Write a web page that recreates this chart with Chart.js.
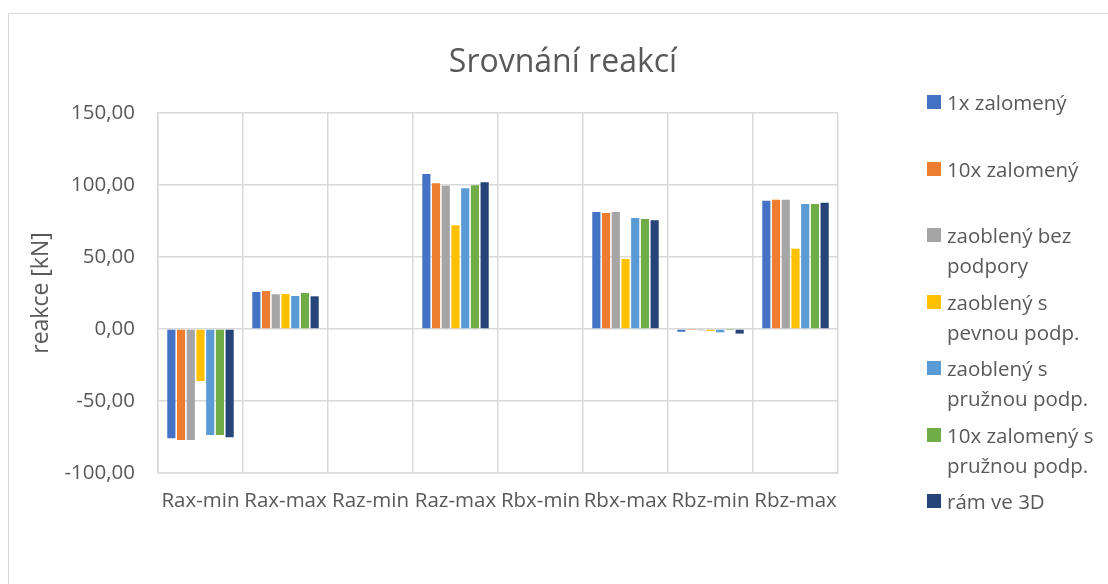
<!DOCTYPE html>
<html lang="cs">
<head>
<meta charset="utf-8">
<title>Srovnání reakcí</title>
<script src="https://cdn.jsdelivr.net/npm/chart.js@4.4.1/dist/chart.umd.min.js"></script>
<style>
    html, body {
        margin: 0;
        padding: 0;
        background: #FFFFFF;
        overflow: hidden;
        width: 1108px;
        height: 584px;
    }

    .chart-frame {
        position: absolute;
        left: 8px;
        top: 13px;
        width: 1110px;
        height: 600px;
        border: 1px solid #D9D9D9;
        box-sizing: border-box;
    }

    .chart-frame canvas {
        position: absolute;
        left: 0;
        top: 0;
    }

    .legend {
        position: absolute;
        left: 918px;
        top: 73px;
        width: 190px;
        margin: 0;
        padding: 0;
        list-style: none;
        font-family: 'Open Sans', sans-serif;
        font-size: 20.5px;
        line-height: 30px;
        color: #595959;
    }

    .legend li {
        position: relative;
        height: 66.5px;
        padding-left: 20px;
        width: 156px;
    }

    .legend .swatch {
        position: absolute;
        left: 0;
        top: 8px;
        width: 14px;
        height: 14px;
    }
</style>
</head>
<body>
<div class="chart-frame">
    <canvas id="reactionsChart" width="1108" height="598"></canvas>
    <ul class="legend" id="reactionsLegend"></ul>
</div>

<script>
// reakce podpor pro jednotlivé varianty modelu [kN]
const categories = ['Rax-min', 'Rax-max', 'Raz-min', 'Raz-max', 'Rbx-min', 'Rbx-max', 'Rbz-min', 'Rbz-max'];

const seriesNames = [
    '1x zalomený',
    '10x zalomený',
    'zaoblený bez podpory',
    'zaoblený s pevnou podp.',
    'zaoblený s pružnou podp.',
    '10x zalomený s pružnou podp.',
    'rám ve 3D',
];

const zalomeny1x       = [-75.9, 25.7, 0, 107.6, 0, 81.2, -1.9, 89.1];
const zalomeny10x      = [-77.1, 26.4, 0, 101.2, 0, 80.5, -0.2, 89.8];
const zaoblenyBez      = [-77.0, 24.1, 0,  99.5, 0, 81.2, -0.9, 89.8];
const zaoblenyPevna    = [-36.1, 24.3, 0,  72.0, 0, 48.6, -1.4, 55.8];
const zaoblenyPruzna   = [-73.6, 22.9, 0,  97.7, 0, 77.1, -2.3, 86.8];
const zalomeny10Pruzna = [-73.6, 25.0, 0,  99.8, 0, 76.4, -0.2, 86.8];
const ram3D            = [-75.2, 22.7, 0, 101.9, 0, 75.5, -3.2, 87.7];

const yTicks = [-100, -50, 0, 50, 100, 150];

const seriesColors = ['#4472C4', '#ED7D31', '#A5A5A5', '#FFC000', '#5B9BD5', '#70AD47', '#264478'];

const chartTitle = 'Srovnání reakcí';

(function () {
    'use strict';

    const TEXT = '#595959';
    const GRID = '#D9D9D9';
    const FONT = "'Open Sans', sans-serif";

    const seriesValues = [
        zalomeny1x,
        zalomeny10x,
        zaoblenyBez,
        zaoblenyPevna,
        zaoblenyPruzna,
        zalomeny10Pruzna,
        ram3D,
    ];

    // title centred over the whole frame, not just the plot + legend gap
    const frameTitle = {
        id: 'frameTitle',
        afterDraw(chart) {
            const ctx = chart.ctx;
            ctx.save();
            ctx.font = `32px ${FONT}`;
            ctx.fillStyle = TEXT;
            ctx.textAlign = 'center';
            ctx.textBaseline = 'middle';
            ctx.fillText(chartTitle, chart.width / 2, 49);
            ctx.restore();
        },
    };

    function formatTick(value) {
        return Number(value).toFixed(2).replace('.', ',');
    }

    function buildDatasets() {
        return seriesNames.map((name, i) => ({
            label: name,
            data: seriesValues[i],
            backgroundColor: seriesColors[i],
            borderWidth: 0,
            barPercentage: 0.84,
            categoryPercentage: 0.8,
        }));
    }

    function buildLegend() {
        const list = document.getElementById('reactionsLegend');

        seriesNames.forEach((name, i) => {
            const item = document.createElement('li');
            const swatch = document.createElement('span');
            swatch.className = 'swatch';
            swatch.style.background = seriesColors[i];
            item.appendChild(swatch);
            item.appendChild(document.createTextNode(name));
            list.appendChild(item);
        });
    }

    Chart.defaults.font.family = FONT;
    Chart.defaults.color = TEXT;

    new Chart(document.getElementById('reactionsChart'), {
        type: 'bar',
        data: {
            labels: categories,
            datasets: buildDatasets(),
        },
        options: {
            responsive: false,
            animation: false,
            layout: {
                padding: { left: 0, right: 279, top: 99, bottom: 0 },
            },
            plugins: {
                legend: { display: false },
                tooltip: { enabled: false },
                title: { display: false },
            },
            scales: {
                x: {
                    grid: {
                        color: GRID,
                        lineWidth: 1.5,
                        drawTicks: false,
                    },
                    border: { color: GRID, width: 1.5 },
                    ticks: {
                        color: TEXT,
                        autoSkip: false,
                        maxRotation: 0,
                        minRotation: 0,
                        padding: 16,
                        font: { family: FONT, size: 20.5 },
                    },
                    afterFit(scale) {
                        scale.height = 139;
                    },
                },
                y: {
                    min: -100,
                    max: 150,
                    afterBuildTicks(scale) {
                        scale.ticks = yTicks.map(value => ({ value }));
                    },
                    grid: {
                        color: GRID,
                        lineWidth: 1.5,
                        drawTicks: false,
                    },
                    border: { color: GRID, width: 1.5 },
                    ticks: {
                        color: TEXT,
                        padding: 23,
                        font: { family: FONT, size: 20.5 },
                        callback: formatTick,
                    },
                    title: {
                        display: true,
                        text: 'reakce [kN]',
                        color: TEXT,
                        padding: { top: 19, bottom: 0 },
                        font: { family: FONT, size: 23 },
                    },
                    afterFit(scale) {
                        scale.width = 149;
                    },
                },
            },
        },
        plugins: [frameTitle],
    });

    buildLegend();
})();
</script>
</body>
</html>
